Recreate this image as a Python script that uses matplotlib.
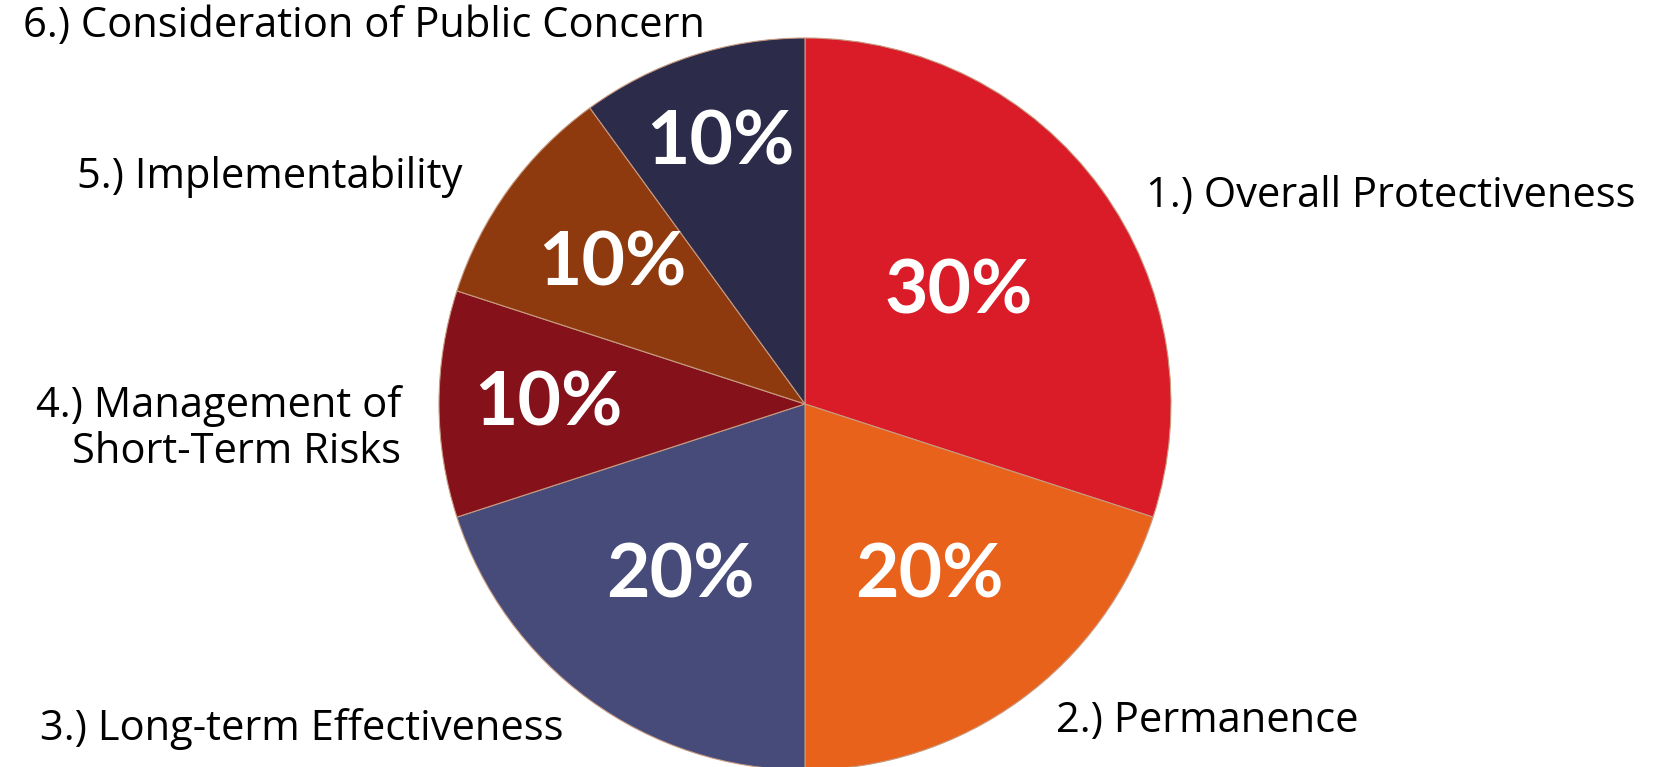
import matplotlib
matplotlib.use("Agg")
import matplotlib.pyplot as plt
import numpy as np

# data
labels = ['1.) Overall Protectiveness', '2.) Permanence', '3.) Long-term Effectiveness',
          '4.) Management of\nShort-Term Risks', '5.) Implementability',
          '6.) Consideration of Public Concern']
shares = [30, 20, 20, 10, 10, 10]
colors = ['#D91C27', '#E8621C', '#464B7A', '#85111A', '#8F3A0E', '#2C2B4A']

W, H = 1656, 767
fig = plt.figure(figsize=(W / 100, H / 100), dpi=100)
ax = fig.add_axes([0, 0, 1, 1])

cx, cy, r = 805, H - 404, 366
wedges, _ = ax.pie(shares, colors=colors, startangle=90, counterclock=False,
                   center=(cx, cy), radius=r, frame=True,
                   wedgeprops=dict(edgecolor='#c79a80', linewidth=0.8))
ax.set_xlim(0, W)
ax.set_ylim(0, H)
ax.set_aspect('equal')
ax.axis('off')

# percent labels, distance from centre as fraction of radius
pct_dist = [0.52, 0.58, 0.58, 0.70, 0.65, 0.75]
for w, v, d in zip(wedges, shares, pct_dist):
    ang = np.deg2rad((w.theta1 + w.theta2) / 2)
    ax.text(cx + d * r * np.cos(ang), cy + d * r * np.sin(ang), f'{v}%',
            color='white', fontsize=54, fontweight='bold', family='Lato',
            ha='center', va='center')

# outer labels (x, y from top)
lab_pos = [(1146, 196, 'left'), (1056, 721, 'left'), (40, 729, 'left'),
           (401, 429, 'right'), (77, 177, 'left'), (23, 26, 'left')]
for t, (x, y, ha) in zip(labels, lab_pos):
    ax.text(x, H - y, t, fontsize=30, family='Open Sans', color='black',
            ha=ha, va='center', multialignment=ha, linespacing=1.15)

fig.savefig('out.png', dpi=100, facecolor='white')
